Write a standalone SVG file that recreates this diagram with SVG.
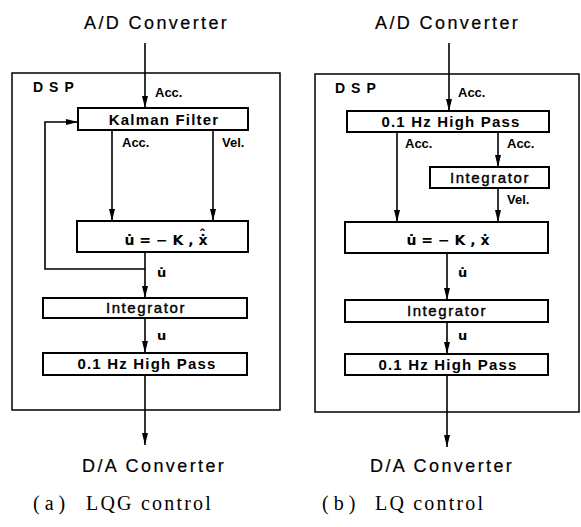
<svg xmlns="http://www.w3.org/2000/svg" width="581" height="527" viewBox="0 0 581 527">
<defs>
<marker id="ah" markerUnits="userSpaceOnUse" markerWidth="12" markerHeight="7" refX="12" refY="3.5" orient="auto">
<path d="M0,0.5 L12,3.5 L0,6.5 z" fill="#000"/>
</marker>
</defs>
<style>
.frame{fill:none;stroke:#000;stroke-width:1.5}
.box{fill:#fff;stroke:#000;stroke-width:2}
.arr{fill:none;stroke:#000;stroke-width:1.6;marker-end:url(#ah)}
.io{font-family:"Liberation Sans",Arial,sans-serif;font-size:18px;letter-spacing:2.4px;fill:#000;stroke:#000;stroke-width:0.2}
.dsp{font-family:"Liberation Sans",Arial,sans-serif;font-size:14px;font-weight:bold;letter-spacing:6px;fill:#000}
.bt{font-family:"Liberation Sans",Arial,sans-serif;font-size:15px;font-weight:bold;letter-spacing:1.2px;text-anchor:middle;fill:#000}
.it{font-family:"Liberation Sans",Arial,sans-serif;font-size:15px;letter-spacing:1.6px;text-anchor:middle;fill:#000;stroke:#000;stroke-width:0.4}
.eq{font-family:"DejaVu Sans",sans-serif;font-size:14px;font-weight:bold;text-anchor:middle;fill:#000}
.lb{font-family:"Liberation Sans",Arial,sans-serif;font-size:13px;font-weight:bold;fill:#000}
.sg{font-family:"DejaVu Sans",sans-serif;font-size:13px;font-weight:bold;fill:#000}
.cap{font-family:"Liberation Serif","Times New Roman",serif;font-size:20px;fill:#000}
</style>

<g id="left-panel">
<g id="a-dsp"><rect class="frame" x="12" y="73" width="268" height="337"/><text class="dsp" x="33" y="92">DSP</text></g>
<g id="a-adc"><text class="io" x="84" y="29">A/D Converter</text></g>
<g id="a-kalman"><rect class="box" x="78" y="108" width="170" height="22"/><text class="bt" x="164" y="125">Kalman Filter</text></g>
<g id="a-gain"><rect class="box" x="77" y="221" width="171" height="31"/><text class="eq" x="166" y="245">u̇ = − K , ẋ<tspan dx="-8.5" dy="-5">ˆ</tspan></text></g>
<g id="a-int"><rect class="box" x="43" y="298" width="204" height="20"/><text class="it" x="146" y="313">Integrator</text></g>
<g id="a-hp"><rect class="box" x="43" y="353" width="204" height="22"/><text class="bt" x="147" y="369">0.1 Hz High Pass</text></g>
<g id="a-dac"><text class="io" x="82" y="472">D/A Converter</text></g>
<g id="a-caption"><text class="cap" x="33" y="510">( a )</text><text class="cap" x="86" y="510" letter-spacing="2.2">LQG control</text></g>
</g>

<g id="right-panel">
<g id="b-dsp"><rect class="frame" x="315" y="74" width="264" height="338"/><text class="dsp" x="335" y="93">DSP</text></g>
<g id="b-adc"><text class="io" x="375" y="29">A/D Converter</text></g>
<g id="b-hp1"><rect class="box" x="347" y="111" width="202" height="21"/><text class="bt" x="451" y="127">0.1 Hz High Pass</text></g>
<g id="b-int1"><rect class="box" x="430" y="167" width="119" height="21"/><text class="it" x="490" y="183">Integrator</text></g>
<g id="b-gain"><rect class="box" x="345" y="222" width="203" height="31"/><text class="eq" x="448" y="245">u̇ = − K , ẋ</text></g>
<g id="b-int2"><rect class="box" x="345" y="300" width="203" height="22"/><text class="it" x="447" y="316">Integrator</text></g>
<g id="b-hp2"><rect class="box" x="345" y="354" width="203" height="21"/><text class="bt" x="448" y="370">0.1 Hz High Pass</text></g>
<g id="b-dac"><text class="io" x="370" y="472">D/A Converter</text></g>
<g id="b-caption"><text class="cap" x="322" y="510">( b )</text><text class="cap" x="375" y="510" letter-spacing="2.2">LQ control</text></g>
</g>

<g id="connectors">
<line class="arr" x1="145" y1="43" x2="145" y2="108"/>
<text class="lb" x="155" y="97">Acc.</text>
<line class="arr" x1="112" y1="131" x2="112" y2="221"/>
<text class="lb" x="122" y="147">Acc.</text>
<line class="arr" x1="213" y1="131" x2="213" y2="221"/>
<text class="lb" x="222" y="147">Vel.</text>
<line class="arr" x1="145" y1="253" x2="145" y2="298"/>
<polyline class="arr" points="145,269 45,269 45,122 78,122"/>
<text class="sg" x="157" y="277">u̇</text>
<line class="arr" x1="145" y1="319" x2="145" y2="353"/>
<text class="sg" x="157" y="340">u</text>
<line class="arr" x1="145" y1="376" x2="145" y2="445"/>

<line class="arr" x1="449" y1="43" x2="449" y2="111"/>
<text class="lb" x="458" y="97">Acc.</text>
<line class="arr" x1="397" y1="133" x2="397" y2="222"/>
<text class="lb" x="405" y="148">Acc.</text>
<line class="arr" x1="498" y1="133" x2="498" y2="167"/>
<text class="lb" x="507" y="148">Acc.</text>
<line class="arr" x1="498" y1="189" x2="498" y2="222"/>
<text class="lb" x="507" y="204">Vel.</text>
<line class="arr" x1="447" y1="254" x2="447" y2="300"/>
<text class="sg" x="458" y="277">u̇</text>
<line class="arr" x1="447" y1="323" x2="447" y2="354"/>
<text class="sg" x="458" y="340">u</text>
<line class="arr" x1="447" y1="376" x2="447" y2="447"/>
</g>
</svg>
